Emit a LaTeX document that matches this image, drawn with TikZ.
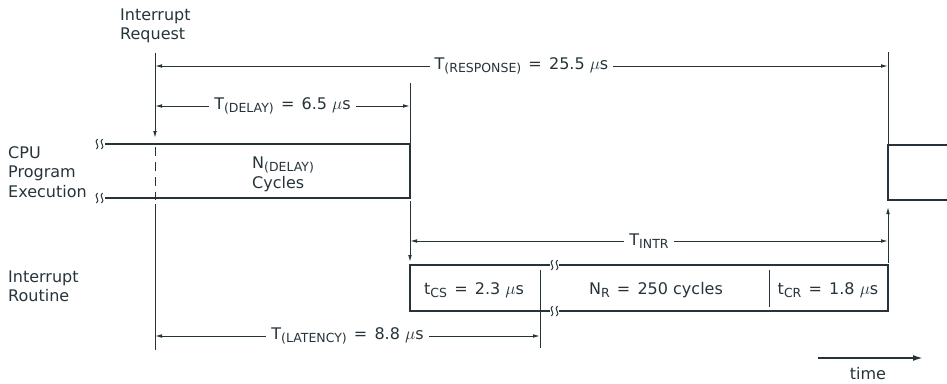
\documentclass[tikz,border=0pt]{standalone}
\usepackage{fontspec}
\setmainfont{DejaVu Sans}
\usetikzlibrary{arrows.meta}
\definecolor{ink}{RGB}{38,52,58}
\newcommand\lowsub[1]{\raisebox{-0.35ex}{\fontsize{12.5}{12.5}\selectfont #1}}
\newcommand\eqs{\hspace{0.45em}=\hspace{0.45em}}
\begin{document}
\begin{tikzpicture}[x=1pt,y=-1pt,
  every node/.style={font=\fontsize{16}{20}\selectfont, text=ink, inner sep=0pt},
  txt/.style={anchor=base west},
  ln/.style={draw=ink, line width=0.9pt},
  boxln/.style={draw=ink, line width=1.7pt},
  dim/.style={ln, {Latex[length=7pt,width=3.6pt]}-{Latex[length=7pt,width=3.6pt]}},
  lbl/.style={fill=white, inner xsep=5pt, inner ysep=2pt},
  tipend/.style={-{Latex[length=7pt,width=3.6pt]}},
  brkpic/.pic={\draw[ink, line width=1pt] (0.5,-5) .. controls (-4,-2) and (4,2) .. (-0.5,5);}]
\useasboundingbox (0,0) rectangle (947,383);

% labels
\node[txt] (irq1) at (120,20) {Interrupt};
\node[txt] (irq2) at (120,39) {Request};
\node[txt] (cpu1) at (8,158) {CPU};
\node[txt] (cpu2) at (8,177) {Program};
\node[txt] (cpu3) at (8,197) {Execution};
\node[txt] (ir1) at (8,282) {Interrupt};
\node[txt] (ir2) at (8,301) {Routine};
\node[txt] (nd1) at (252,168) {N\lowsub{(DELAY)}};
\node[txt] (nd2) at (252,188) {Cycles};

% coordinates
\coordinate (irqA) at (155,53);
\coordinate (irqB) at (155,138);
\coordinate (irqC) at (155,147);
\coordinate (irqD) at (155,200);
\coordinate (irqE) at (155,204);
\coordinate (irqF) at (155,350);

\coordinate (respL) at (155,66);
\coordinate (respR) at (888,66);
\coordinate (endA) at (888,52);

\coordinate (delL) at (155,106);
\coordinate (delR) at (410,106);
\coordinate (ackA) at (410,83);

\coordinate (cpuTL) at (105,144);
\coordinate (cpuTR) at (410,144);
\coordinate (cpuBR) at (410,198);
\coordinate (cpuBL) at (105,198);
\coordinate (ackB) at (410,201);
\coordinate (ackC) at (410,262);

\coordinate (cpu2TL) at (888,145);
\coordinate (cpu2TR) at (947,145);
\coordinate (cpu2BL) at (888,200);
\coordinate (cpu2BR) at (947,200);
\coordinate (retA) at (888,207);
\coordinate (retB) at (888,263);

\coordinate (intrL) at (410,241);
\coordinate (intrR) at (888,241);

\coordinate (irTL) at (410,265);
\coordinate (irBL) at (410,311);
\coordinate (brkT1) at (550,265);
\coordinate (brkB1) at (550,311);
\coordinate (brkT2) at (559,265);
\coordinate (brkB2) at (559,311);
\coordinate (irTR) at (888,265);
\coordinate (irBR) at (888,311);

\coordinate (dv1A) at (540,270);
\coordinate (dv1B) at (540,348);
\coordinate (dv2A) at (769,270);
\coordinate (dv2B) at (769,307);

\coordinate (latL) at (155,336);
\coordinate (latR) at (540,336);

\coordinate (timeA) at (818,358);
\coordinate (timeB) at (923,358);

% interrupt request line
\draw[ln,tipend] (irqA) -- (irqB);
\draw[ln,dash pattern=on 9pt off 6pt] (irqC) -- (irqD);
\draw[ln] (irqE) -- (irqF);

% response
\draw[dim] (respL) -- node[lbl] (resp) {T\lowsub{(RESPONSE)}\eqs25.5 $\mu$s} (respR);
\draw[ln] (endA) -- (cpu2TL);

% delay
\draw[ln] (ackA) -- (cpuTR);
\draw[dim] (delL) -- node[lbl] (del) {T\lowsub{(DELAY)}\eqs6.5 $\mu$s} (delR);

% CPU box
\draw[boxln] (cpuTL) -- (cpuTR) -- (cpuBR) -- (cpuBL);
\pic at (97,144) {brkpic};
\pic at (102,144) {brkpic};
\pic at (97,198) {brkpic};
\pic at (102,198) {brkpic};
\draw[ln,tipend] (ackB) -- (ackC);

% right CPU box
\draw[boxln] (cpu2TR) -- (cpu2TL) -- (cpu2BL) -- (cpu2BR);
\draw[ln,tipend] (retB) -- (retA);

% INTR
\draw[dim] (intrL) -- node[lbl] (intr) {T\lowsub{INTR}} (intrR);

% interrupt routine box
\draw[boxln] (brkT1) -- (irTL) -- (irBL) -- (brkB1);
\draw[boxln] (brkT2) -- (irTR) -- (irBR) -- (brkB2);
\pic at (552,265) {brkpic};
\pic at (557,265) {brkpic};
\pic at (552,311) {brkpic};
\pic at (557,311) {brkpic};
\draw[ln] (dv1A) -- (dv1B);
\draw[ln] (dv2A) -- (dv2B);
\node[txt] (tcs) at (424,294) {t\lowsub{CS}\eqs2.3 $\mu$s};
\node[anchor=base] (nr) at (656,294) {N\lowsub{R}\eqs250 cycles};
\node[anchor=base] (tcr) at (828,294) {t\lowsub{CR}\eqs1.8 $\mu$s};

% latency
\draw[dim] (latL) -- node[lbl] (lat) {T\lowsub{(LATENCY)}\eqs8.8 $\mu$s} (latR);

% time
\draw[draw=ink, line width=1.8pt, -{Latex[length=10pt,width=6pt]}] (timeA) -- (timeB);
\node[anchor=base] (time) at (868,379) {time};
\end{tikzpicture}
\end{document}
